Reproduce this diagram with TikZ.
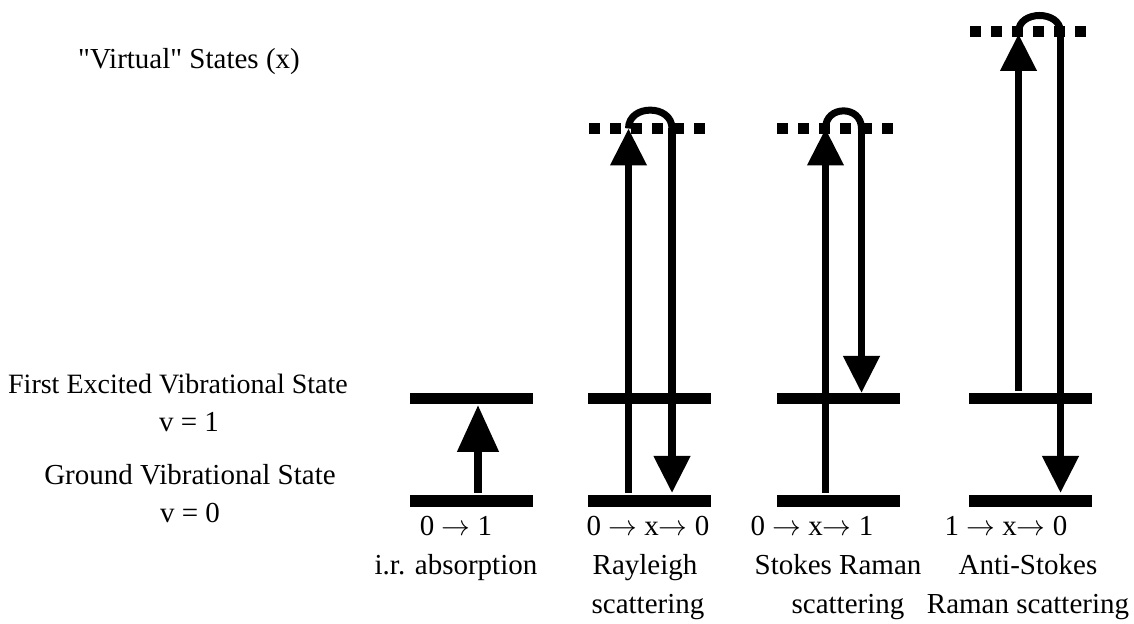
\documentclass[tikz,border=0pt]{standalone}
\usepackage{fontspec}
\setmainfont{Liberation Serif}[Ligatures=TeXOff]
\usetikzlibrary{arrows.meta}

\tikzset{
    level/.style={line width=5.75pt},
    virtual/.style={line width=5.5pt, dash pattern=on 5.5pt off 5pt},
    trans/.style={line width=3.75pt, -{Triangle[length=18.5pt,width=17.5pt]}},
    bigtrans/.style={line width=4pt, -{Triangle[length=23.5pt,width=20pt]}},
    hop/.style={line width=3.5pt},
    lbl/.style={anchor=base, inner sep=0pt, font=\fontsize{14.5}{18}\selectfont}
}
\newcommand{\ra}{$\rightarrow$}

\begin{document}
\begin{tikzpicture}[x=0.5pt, y=-0.5pt]
            \useasboundingbox (0,0) rectangle (1134,624);
            % labels on the left
            \node[lbl] (virt) at (189,69) {"Virtual" States (x)};
            \node[lbl, font=\fontsize{14}{18}\selectfont] (exc) at (178,394) {First Excited Vibrational State};
            \node[lbl] (v1) at (189,432) {v = 1};
            \node[lbl] (gnd) at (190,485) {Ground Vibrational State};
            \node[lbl] (v0) at (190,523) {v = 0};
            % energy levels
            \draw[level] (410,501) -- (533,501); % ground
            \draw[level] (410,398.5) -- (533,398.5); % excited
            \draw[level] (588,501) -- (711,501);
            \draw[level] (588,398.5) -- (711,398.5);
            \draw[level] (777,501) -- (900,501);
            \draw[level] (777,398.5) -- (900,398.5);
            \draw[level] (969,501) -- (1092,501);
            \draw[level] (969,398.5) -- (1092,398.5);
            % virtual states
            \draw[virtual] (589,128.5) -- (707,128.5);
            \draw[virtual] (777,128.5) -- (895,128.5);
            \draw[virtual] (970,32) -- (1088,32);
            % end points of the transitions
            \coordinate (ir0) at (478,493);
            \coordinate (ir1) at (478,405);
            \coordinate (ra0) at (628.5,493);
            \coordinate (rax) at (628.5,128.5);
            \coordinate (rbx) at (672,128.5);
            \coordinate (rb0) at (672,493);
            \coordinate (sa0) at (825.5,493);
            \coordinate (sax) at (825.5,128.5);
            \coordinate (sbx) at (861.5,128.5);
            \coordinate (sb1) at (861.5,393);
            \coordinate (aa1) at (1018.5,391);
            \coordinate (aax) at (1018.5,34);
            \coordinate (abx) at (1060.5,32);
            \coordinate (ab0) at (1060.5,493);
            % i.r. absorption
            \draw[bigtrans] (ir0) -- (ir1);
            % Rayleigh
            \draw[trans] (ra0) -- (rax);
            \draw[hop] (rax) .. controls (628.5,104) and (672,104) .. (rbx);
            \draw[trans] (rbx) -- (rb0);
            % Stokes
            \draw[trans] (sa0) -- (sax);
            \draw[hop] (sax) .. controls (825.5,105) and (861.5,105) .. (sbx);
            \draw[trans] (sbx) -- (sb1);
            % anti-Stokes
            \draw[trans] (aa1) -- (aax);
            \draw[hop] (1018.5,32) .. controls (1018.5,10) and (1060.5,10) .. (abx);
            \draw[trans] (abx) -- (ab0);
            % labels below
            \node[lbl] (irt) at (456,535) {0 \ra{} 1};
            \node[lbl] (irn) at (456,574) {i.r. absorption};
            \node[lbl] (rat) at (648,535) {0 \ra{} x\ra{} 0};
            \node[lbl] (ran) at (645,574) {Rayleigh};
            \node[lbl] (ras) at (648,613) {scattering};
            \node[lbl] (stt) at (812,535) {0 \ra{} x\ra{} 1};
            \node[lbl] (stn) at (838,574) {Stokes Raman};
            \node[lbl] (sts) at (848,613) {scattering};
            \node[lbl] (ast) at (1006,535) {1 \ra{} x\ra{} 0};
            \node[lbl] (asn) at (1028,574) {Anti-Stokes};
            \node[lbl] (ass) at (1028,613) {Raman scattering};
        \end{tikzpicture}
\end{document}
